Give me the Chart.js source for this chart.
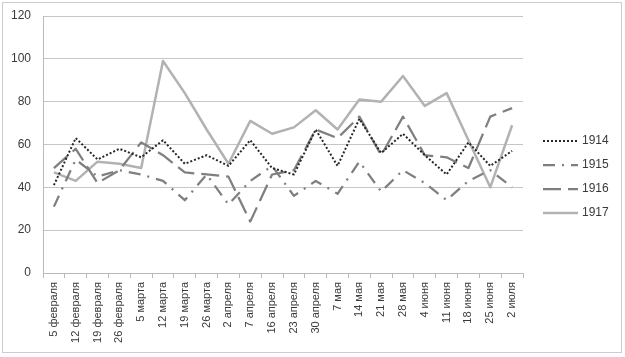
<!DOCTYPE html>
<html>
<head>
<meta charset="utf-8">
<script src="https://cdn.jsdelivr.net/npm/chart.js@4/dist/chart.umd.min.js"></script>
<style>
html,body{margin:0;padding:0;background:#fff;}
#wrap{position:relative;width:625px;height:357px;overflow:hidden;}
#frame{position:absolute;left:2px;top:2px;width:618px;height:349px;border:1px solid #cccccc;pointer-events:none;}
canvas{position:absolute;left:0;top:0;}
</style>
</head>
<body>
<div id="wrap"><canvas id="c" width="625" height="357"></canvas><div id="frame"></div></div>
<script>
const categories = ['5 февраля','12 февраля','19 февраля','26 февраля','5 марта','12 марта','19 марта','26 марта','2 апреля','7 апреля','16 апреля','23 апреля','30 апреля','7 мая','14 мая','21 мая','28 мая','4 июня','11 июня','18 июня','25 июня','2 июля'];
const seriesNames = ['1914','1915','1916','1917'];
const values1914 = [41, 63, 53, 58, 54, 62, 51, 55, 50, 62, 49, 46, 67, 50, 72, 56, 65, 55, 46, 61, 50, 57];
const values1915 = [31, 53, 45, 48, 46, 43, 34, 46, 32, 43, 50, 36, 43, 37, 52, 38, 48, 42, 34, 43, 48, 40];
const values1916 = [49, 58, 42, 48, 61, 55, 47, 46, 45, 24, 46, 48, 67, 63, 73, 55, 73, 55, 54, 49, 73, 77];
const values1917 = [47, 43, 52, 51, 49, 99, 84, 67, 51, 71, 65, 68, 76, 67, 81, 80, 92, 78, 84, 62, 40, 69];
const yTicks = [0, 20, 40, 60, 80, 100, 120];

const FONT = "'Liberation Sans', Arial, sans-serif";
const TXT = '#3a3a3a';

// pick a narrow face for the category labels if one is installed
function hasFont(name) {
  const c = document.createElement('canvas').getContext('2d');
  const s = 'abcdefghijklmnopqrstuvwxyz 0123456789 февраля';
  c.font = '40px monospace'; const a = c.measureText(s).width;
  c.font = '40px "' + name + '", monospace'; const b = c.measureText(s).width;
  c.font = '40px serif'; const d = c.measureText(s).width;
  c.font = '40px "' + name + '", serif'; const e = c.measureText(s).width;
  return a !== b || d !== e;
}
const narrow = hasFont('Liberation Sans Narrow');
const xFont = narrow ? { family: "'Liberation Sans Narrow', 'Liberation Sans', sans-serif", size: 12 } : { family: FONT, size: 11 };

const sideLegend = {
  id: 'sideLegend',
  afterDraw(chart) {
    const ctx = chart.ctx;
    const x0 = 543, x1 = 578, tx = 582;
    const yc = 177;
    ctx.save();
    chart.data.datasets.forEach((ds, i) => {
      const y = yc + (i - 1.5) * 24;
      ctx.beginPath();
      ctx.strokeStyle = ds.borderColor;
      ctx.lineWidth = ds.borderWidth;
      ctx.setLineDash(ds.borderDash || []);
      ctx.lineCap = 'butt';
      ctx.moveTo(x0, y);
      ctx.lineTo(x1, y);
      ctx.stroke();
      ctx.setLineDash([]);
      ctx.fillStyle = TXT;
      ctx.font = '12px ' + FONT;
      ctx.textBaseline = 'middle';
      ctx.textAlign = 'left';
      ctx.fillText(ds.label, tx, y);
    });
    ctx.restore();
  }
};

new Chart(document.getElementById('c'), {
  type: 'line',
  data: {
    labels: categories,
    datasets: [
      { label: seriesNames[0], data: values1914, borderColor: '#262626', borderWidth: 2, borderDash: [2, 2] },
      { label: seriesNames[1], data: values1915, borderColor: '#7f7f7f', borderWidth: 2.25, borderDash: [12, 7, 2, 7] },
      { label: seriesNames[2], data: values1916, borderColor: '#7f7f7f', borderWidth: 2.25, borderDash: [18, 7] },
      { label: seriesNames[3], data: values1917, borderColor: '#b2b2b2', borderWidth: 2.5 }
    ].map(d => Object.assign({ pointRadius: 0, pointHoverRadius: 0, tension: 0, fill: false, borderCapStyle: 'butt', borderJoinStyle: 'round' }, d))
  },
  options: {
    responsive: false,
    animation: false,
    events: [],
    layout: { padding: { left: 11, top: 16, right: 102, bottom: 0 } },
    plugins: { legend: { display: false }, tooltip: { enabled: false }, title: { display: false } },
    scales: {
      x: {
        offset: true,
        grid: { display: true, offset: true, drawOnChartArea: false, drawTicks: true, tickLength: 5, color: '#bababa' },
        border: { display: true, color: '#bababa', width: 1 },
        ticks: { autoSkip: false, minRotation: 90, maxRotation: 90, padding: 4, color: TXT, font: xFont },
        afterFit(scale) { scale.height = 84; scale.paddingLeft = 0; scale.paddingRight = 0; }
      },
      y: {
        min: 0, max: 120,
        afterBuildTicks(scale) { scale.ticks = yTicks.map(v => ({ value: v })); },
        grid: { color: '#c6c6c6', lineWidth: 1, drawTicks: false },
        border: { display: true, color: '#bababa', width: 1 },
        ticks: { padding: 12, color: TXT, font: { family: FONT, size: 12 } },
        afterFit(scale) { scale.width = 32; scale.paddingTop = 0; scale.paddingBottom = 0; }
      }
    }
  },
  plugins: [sideLegend]
});
</script>
</body>
</html>
